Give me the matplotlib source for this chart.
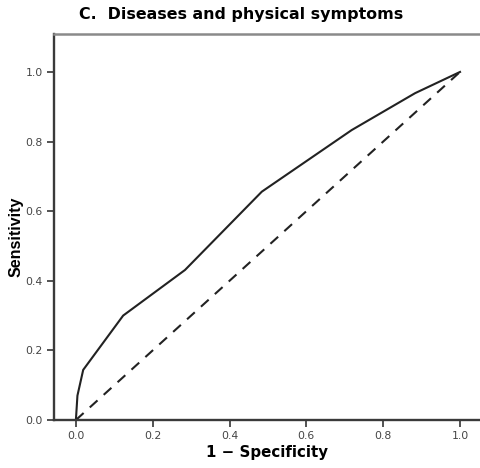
import matplotlib
matplotlib.use('Agg')
import matplotlib.pyplot as plt

# ROC curve points (1 - specificity, sensitivity)
fpr = [0.0, 0.004, 0.019, 0.123, 0.284, 0.484, 0.718, 0.883, 1.0]
tpr = [0.0, 0.07, 0.144, 0.300, 0.431, 0.656, 0.833, 0.939, 1.0]
ref_x = [0.0, 1.0]
ref_y = [0.0, 1.0]
ticks = [0.0, 0.2, 0.4, 0.6, 0.8, 1.0]
tick_labels = ['0.0', '0.2', '0.4', '0.6', '0.8', '1.0']

fig = plt.figure(figsize=(4.8, 4.68), dpi=100)
ax = fig.add_axes([54/480, 48/468, 1 - 54/480, 386/468])

ax.plot(fpr, tpr, color='#222222', lw=1.5, solid_joinstyle='miter')
ax.plot(ref_x, ref_y, color='#222222', lw=1.5, dashes=(5, 4))

ax.set_xlim(-0.057, 1.052)
ax.set_ylim(0, 1.109)
ax.set_xticks(ticks)
ax.set_xticklabels(tick_labels)
ax.set_yticks(ticks)
ax.set_yticklabels(tick_labels)
ax.tick_params(direction='out', length=5, width=1.3, colors='#444444', labelsize=7.8, pad=3)

ax.spines['right'].set_visible(False)
for s in ['left', 'bottom']:
    ax.spines[s].set_linewidth(1.7)
    ax.spines[s].set_color('#3a3a3a')
ax.spines['top'].set_linewidth(1.8)
ax.spines['top'].set_color('#8a8a8a')

ax.set_xlabel('1 \u2212 Specificity', fontsize=10.8, fontweight='bold', labelpad=3)
ax.set_ylabel('Sensitivity', fontsize=11.5, fontweight='bold', va='center',
              family='Liberation Sans')
ax.yaxis.set_label_coords(-0.088, 0.474)

fig.text(241/480, 1 - 15/468, 'C.  Diseases and physical symptoms',
         ha='center', va='center', fontsize=11.4, fontweight='bold')

fig.savefig('out.png', dpi=100)
